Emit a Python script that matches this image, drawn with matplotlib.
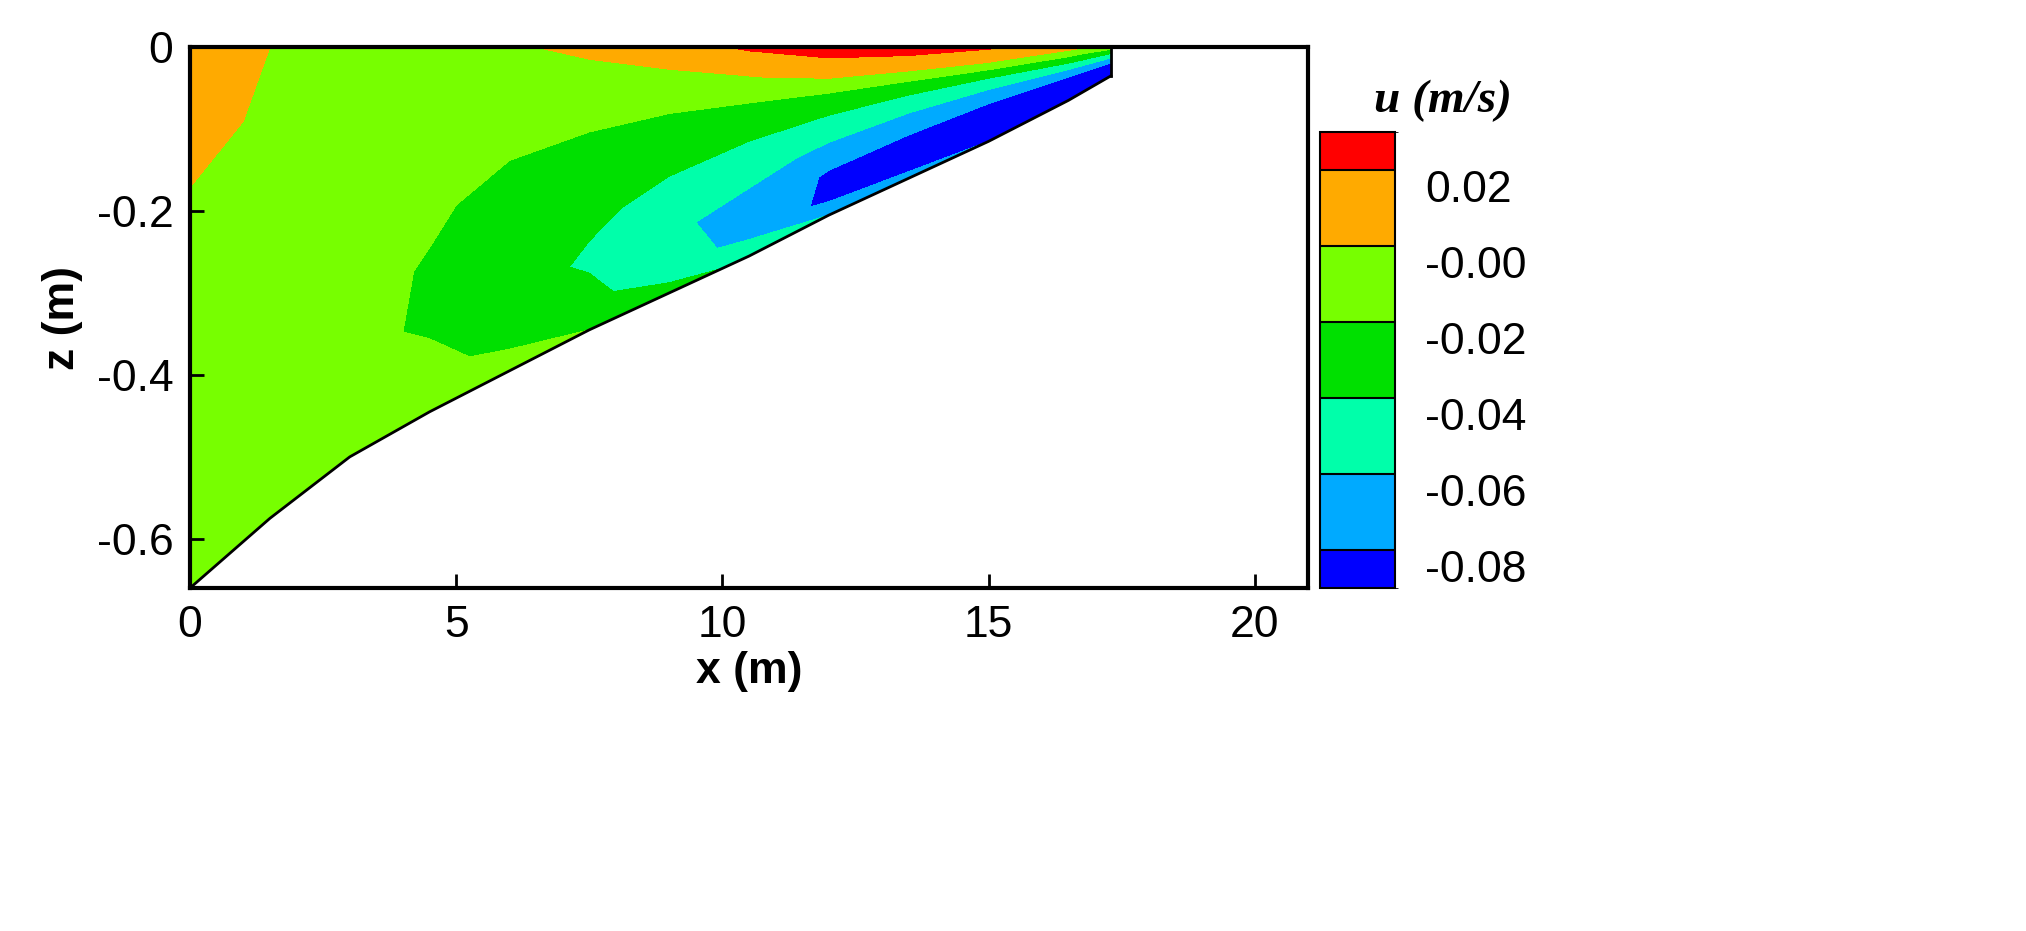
import numpy as np
import matplotlib
matplotlib.use("Agg")
import matplotlib.pyplot as plt
from matplotlib.colors import ListedColormap, BoundaryNorm
import matplotlib.colorbar as mcb

x_nodes = [0, 1.5, 3, 4.5, 6, 7.5, 9, 10.5, 12, 13.5, 15, 16.5, 17.3]
bed_z = [-0.66, -0.575, -0.50, -0.445, -0.395, -0.345, -0.30, -0.255, -0.205, -0.16, -0.115, -0.065, -0.035]
sigma = [0, 0.15, 0.3, 0.45, 0.6, 0.75, 0.9, 1.0]
u_cols = [
    [0.012, 0.008, -0.003, -0.005, -0.006, -0.006, -0.004, -0.002],
    [0.000, -0.004, -0.008, -0.010, -0.010, -0.010, -0.008, -0.004],
    [-0.004, -0.008, -0.012, -0.014, -0.016, -0.016, -0.012, -0.006],
    [-0.004, -0.010, -0.015, -0.018, -0.021, -0.022, -0.016, -0.008],
    [-0.002, -0.010, -0.018, -0.024, -0.029, -0.031, -0.024, -0.012],
    [0.004, -0.010, -0.020, -0.028, -0.036, -0.043, -0.034, -0.020],
    [0.012, -0.008, -0.023, -0.034, -0.046, -0.057, -0.054, -0.030],
    [0.023, -0.002, -0.025, -0.040, -0.054, -0.066, -0.064, -0.045],
    [0.029, 0.008, -0.026, -0.046, -0.064, -0.082, -0.085, -0.060],
    [0.029, 0.008, -0.030, -0.053, -0.073, -0.088, -0.090, -0.070],
    [0.023, 0.003, -0.035, -0.060, -0.080, -0.090, -0.092, -0.080],
    [0.010, -0.015, -0.040, -0.065, -0.085, -0.092, -0.092, -0.085],
    [-0.010, -0.030, -0.050, -0.070, -0.085, -0.090, -0.090, -0.085],
]
levels = [-0.09, -0.08, -0.06, -0.04, -0.02, 0.0, 0.02, 0.03]
colors = ["#0000ff", "#00aaff", "#00ffaa", "#00e000", "#77ff00", "#ffaa00", "#ff0000"]
tick_vals = [-0.08, -0.06, -0.04, -0.02, 0.0, 0.02]
tick_labels = ["-0.08", "-0.06", "-0.04", "-0.02", "-0.00", "0.02"]

X = np.array(x_nodes)[:, None] * np.ones(len(sigma))[None, :]
Z = -np.array(sigma)[None, :] * (-np.array(bed_z))[:, None]
U = np.clip(np.array(u_cols), -0.0899, 0.0299)

fig = plt.figure(figsize=(20.26, 9.31), dpi=100)
ax = fig.add_axes([0.0938, 0.3684, 0.5518, 0.581])
cmap = ListedColormap(colors)
norm = BoundaryNorm(levels, cmap.N)
ax.contourf(X, Z, U, levels=levels, cmap=cmap, norm=norm)
ax.plot(x_nodes, bed_z, color="black", lw=2)
ax.plot([x_nodes[-1], x_nodes[-1]], [bed_z[-1], 0], color="black", lw=2)
ax.set_xlim(0, 21)
ax.set_ylim(-0.66, 0)
ax.set_xticks([0, 5, 10, 15, 20])
ax.set_yticks([0, -0.2, -0.4, -0.6])
ax.set_yticklabels(["0", "-0.2", "-0.4", "-0.6"])
fp = dict(family="Liberation Sans")
for lab in ax.get_xticklabels() + ax.get_yticklabels():
    lab.set_fontsize(32); lab.set_family("Liberation Sans")
ax.tick_params(direction="in", length=10, width=2, pad=12)
for s in ax.spines.values():
    s.set_linewidth(3)
ax.set_xlabel("x (m)", fontsize=32, fontweight="bold", labelpad=4, **fp)
ax.set_ylabel("z (m)", fontsize=32, fontweight="bold", labelpad=10, **fp)

cax = fig.add_axes([0.6515, 0.3684, 0.037, 0.4898])
cb = mcb.ColorbarBase(cax, cmap=cmap, norm=norm, boundaries=levels, spacing="proportional",
                      drawedges=True)
cb.outline.set_linewidth(1.5)
cb.dividers.set_linewidth(1.5)
cb.set_ticks(tick_vals)
cb.set_ticklabels(tick_labels)
cax.tick_params(length=0, pad=22, labelsize=32)
for lab in cax.get_yticklabels():
    lab.set_family("Liberation Sans"); lab.set_va("top")
fig.text(0.712, 0.88, "u (m/s)", fontsize=34, fontweight="bold", style="italic",
         family="Liberation Serif", ha="center")
fig.savefig("out.png", dpi=100)
